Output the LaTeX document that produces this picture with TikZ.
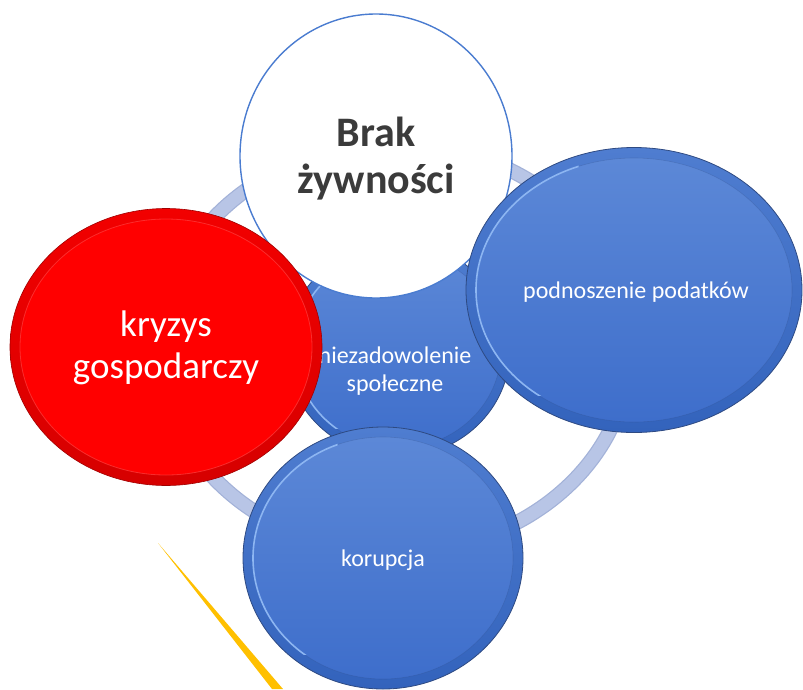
\documentclass[tikz,border=0pt]{standalone}
\usepackage{fontspec}
\setmainfont{Carlito}
\usetikzlibrary{shapes.geometric}
\definecolor{ringC}{HTML}{B8C5E6}
\definecolor{ringE}{HTML}{A3B2D8}
\definecolor{bTop}{HTML}{4F7DD0}
\definecolor{bBot}{HTML}{3363BC}
\definecolor{bInTop}{HTML}{5C88D7}
\definecolor{bInBot}{HTML}{3E6ECB}
\definecolor{bEdge}{HTML}{2E4A82}
\definecolor{bHi}{HTML}{8DB6F2}
\definecolor{rTop}{HTML}{F20000}
\definecolor{rBot}{HTML}{D60000}
\definecolor{rIn}{HTML}{FF0000}
\definecolor{rHi}{HTML}{FF4A4A}
\definecolor{wEdge}{HTML}{4A7CD0}
\definecolor{darkTxt}{HTML}{3B3B3B}
\definecolor{gold}{HTML}{FFC000}
\tikzset{
  bluedisc/.style={ellipse, inner sep=0pt, draw=bEdge, line width=0.8pt,
    top color=bTop, bottom color=bBot},
  blueinner/.style={draw=bEdge, draw opacity=0.25, line width=0.6pt, top color=bInTop, bottom color=bInBot},
  bluehi/.style={draw=bHi, line width=1.6pt, line cap=round},
  reddisc/.style={ellipse, inner sep=0pt, draw=rBot!75!black, line width=0.6pt,
    top color=rTop, bottom color=rBot},
  redinner/.style={draw=rHi, draw opacity=0.6, line width=0.8pt, fill=rIn},
  whitedisc/.style={ellipse, inner sep=0pt, draw=wEdge, line width=1.4pt, fill=white},
  wlabel/.style={text=white, align=center, inner sep=0pt},
}
\newcommand{\bevel}[4]{%
  \path[blueinner] (#1,#2) ellipse [x radius=#3, y radius=#4];
  \begin{scope}
    \clip (#1-#3-5,#2-#4-5) rectangle (#1-0.35*#3,#2+0.8*#4);
    \draw[bluehi] (#1,#2) ellipse [x radius=#3, y radius=#4];
  \end{scope}}
\begin{document}
\begin{tikzpicture}[x=1pt,y=-1pt]
\useasboundingbox (0,0) rectangle (803,689);
% ring
\draw[line width=15pt, ringE] (395,348) ellipse [x radius=235, y radius=204];
\draw[line width=12.5pt, ringC] (395,348) ellipse [x radius=235, y radius=204];
% yellow wedge
\fill[gold] (158,543) -- (272,689) -- (283,689) -- cycle;
% centre disc
\node[bluedisc, minimum width=224pt, minimum height=214pt] (spol) at (398,350) {};
\bevel{398}{350}{103}{98}
\node[wlabel, font=\fontsize{24}{27.5}\selectfont] (spolT) at (395,371) {niezadowolenie\\społeczne};
% white disc
\node[whitedisc, minimum width=272pt, minimum height=284pt] (brak) at (376,156) {};
\node[align=center, inner sep=0pt, text=darkTxt, font=\fontsize{42}{47}\selectfont\bfseries] (brakT) at (376,159) {Brak\\żywności};
% red disc
\node[reddisc, minimum width=312pt, minimum height=277pt] (kryz) at (166,347) {};
\path[redinner] (166,347) ellipse [x radius=146, y radius=128];
\node[wlabel, font=\fontsize{37}{42}\selectfont] (kryzT) at (166,348) {kryzys\\gospodarczy};
% right disc
\node[bluedisc, minimum width=336pt, minimum height=285pt] (pod) at (634,290) {};
\bevel{634}{290}{158}{132}
\node[wlabel, font=\fontsize{24}{28}\selectfont] (podT) at (636,292) {podnoszenie podatków};
% bottom disc
\node[bluedisc, minimum width=280pt, minimum height=262pt] (kor) at (383,558) {};
\bevel{383}{558}{130}{121}
\node[wlabel, font=\fontsize{24}{28}\selectfont] (korT) at (383,560) {korupcja};
\end{tikzpicture}
\end{document}
